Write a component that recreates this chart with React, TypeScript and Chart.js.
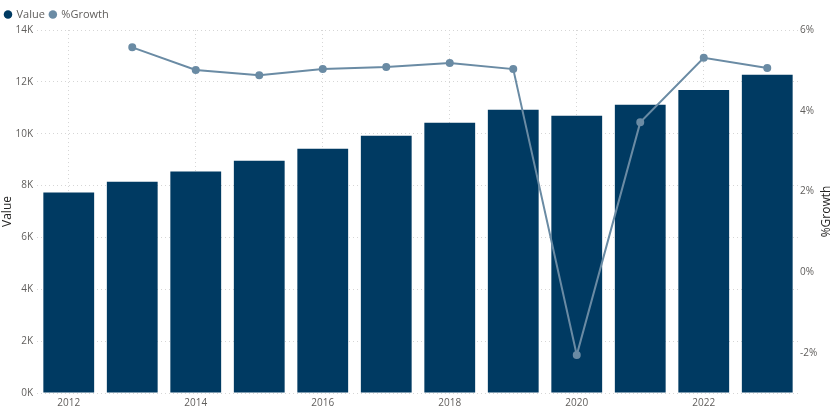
import { useRef, useEffect } from 'react';
import { Chart, registerables } from 'chart.js';
Chart.register(...registerables);

const years = ['2012', '2013', '2014', '2015', '2016', '2017', '2018', '2019', '2020', '2021', '2022', '2023'];
const values = [7730, 8150, 8540, 8960, 9420, 9920, 10420, 10920, 10690, 11120, 11690, 12270];
const growth = [null, 5.57, 5.01, 4.88, 5.03, 5.08, 5.18, 5.03, -2.06, 3.71, 5.31, 5.06];

const FONT = "'Segoe UI', 'Open Sans', 'DejaVu Sans', sans-serif";
const GREY = '#605e5c';

// right axis title reads bottom-to-top, so draw it by hand
const rightTitle = {
  id: 'rightTitle',
  afterDraw(chart: Chart) {
    const { ctx, chartArea } = chart;
    ctx.save();
    ctx.translate(827, (chartArea.top + chartArea.bottom) / 2);
    ctx.rotate(-Math.PI / 2);
    ctx.font = `12px ${FONT}`;
    ctx.fillStyle = '#252423';
    ctx.textAlign = 'center';
    ctx.textBaseline = 'middle';
    ctx.fillText('%Growth', 0, 0);
    ctx.restore();
  },
};

const App = () => {
  const chartRef = useRef<HTMLCanvasElement>(null);
  const chartInstanceRef = useRef<Chart | null>(null);

  useEffect(() => {
    document.body.style.margin = '0';
    if (!chartRef.current) return;
    if (chartInstanceRef.current) chartInstanceRef.current.destroy();

    const defaultLabels = Chart.defaults.plugins.legend.labels.generateLabels;

    chartInstanceRef.current = new Chart(chartRef.current, {
      type: 'bar',
      data: {
        labels: years,
        datasets: [
          {
            type: 'bar',
            label: 'Value',
            data: values,
            backgroundColor: '#003a62',
            yAxisID: 'y',
            order: 1,
            barPercentage: 0.8,
            categoryPercentage: 1,
          },
          {
            type: 'line',
            label: '%Growth',
            data: growth,
            borderColor: '#6a8ba4',
            backgroundColor: '#6a8ba4',
            borderWidth: 2,
            pointRadius: 3,
            yAxisID: 'y1',
            order: 0,
          } as any,
        ],
      },
      options: {
        animation: false,
        responsive: false,
        layout: { padding: { top: 4, right: 14 } },
        plugins: {
          legend: {
            position: 'top',
            align: 'start',
            labels: {
              usePointStyle: true,
              pointStyle: 'circle',
              boxWidth: 6,
              boxHeight: 6,
              padding: 5,
              color: GREY,
              font: { family: FONT, size: 11 },
              sort: (a: any, b: any) => a.datasetIndex - b.datasetIndex,
              generateLabels: (chart: any) =>
                defaultLabels(chart).map((l: any) => ({ ...l, lineWidth: 0 })),
            },
          },
          tooltip: { enabled: false },
        },
        scales: {
          x: {
            offset: true,
            grid: {
              offset: false,
              color: '#d6d6d6',
              drawTicks: false,
            },
            border: { display: false, dash: [1, 3] },
            afterBuildTicks: (scale: any) => {
              scale.ticks = scale.ticks.filter((t: any) => t.value % 2 === 0);
            },
            ticks: {
              autoSkip: false,
              maxRotation: 0,
              padding: 4,
              color: GREY,
              font: { family: FONT, size: 10 },
            },
            afterFit: (scale: any) => { scale.height = 18; },
          },
          y: {
            position: 'left',
            min: 0,
            max: 14000,
            ticks: {
              stepSize: 2000,
              padding: 4,
              color: GREY,
              font: { family: FONT, size: 10 },
              callback: (v: any) => `${v / 1000}K`,
            },
            grid: { color: '#d6d6d6', drawTicks: false },
            border: { display: false, dash: [1, 3] },
            title: {
              display: true,
              text: 'Value',
              color: '#252423',
              font: { family: FONT, size: 12 },
              padding: { top: 0, bottom: 0 },
            },
            afterFit: (scale: any) => { scale.width = 37; },
          },
          y1: {
            position: 'right',
            min: -3,
            max: 6,
            grid: { display: false, drawTicks: false },
            border: { display: false },
            ticks: {
              stepSize: 2,
              includeBounds: false,
              padding: 1,
              color: GREY,
              font: { family: FONT, size: 10 },
              callback: (v: any) => `${v}%`,
            },
            afterFit: (scale: any) => { scale.width = 22; },
          },
        },
      },
      plugins: [rightTitle],
    });

    return () => {
      if (chartInstanceRef.current) {
        chartInstanceRef.current.destroy();
        chartInstanceRef.current = null;
      }
    };
  }, []);

  return (
    <div style={{ width: 835, height: 411, background: '#fff' }}>
      <canvas ref={chartRef} width={835} height={411} />
    </div>
  );
};

export default App;
